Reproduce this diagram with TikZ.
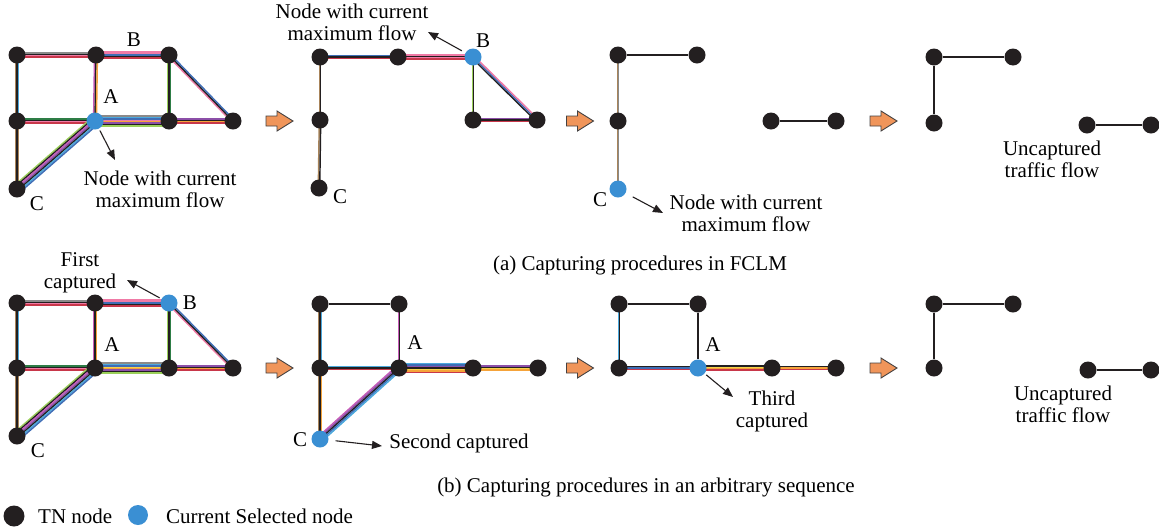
\documentclass[tikz,border=0pt]{standalone}
\usepackage{fontspec}
\setmainfont{Liberation Serif}
\usetikzlibrary{calc,backgrounds,arrows.meta}

% node and arrow colours
\definecolor{tnblack}{HTML}{231F20}
\definecolor{selblue}{HTML}{3A8FD3}
\definecolor{stepfill}{HTML}{F0955A}
% colours of the individual traffic flows
\definecolor{fRed}{HTML}{C8374A}
\definecolor{fPink}{HTML}{F07AA6}
\definecolor{fBlk}{HTML}{231F20}
\definecolor{fBlu}{HTML}{3F6DB5}
\definecolor{fGrn}{HTML}{9BD05A}
\definecolor{fDkg}{HTML}{2E7D46}
\definecolor{fOra}{HTML}{F5A33A}
\definecolor{fPur}{HTML}{8C4FA8}
\definecolor{fLbl}{HTML}{4BA8DC}
\definecolor{fBrn}{HTML}{A8845A}
\definecolor{fMag}{HTML}{C65AB8}
\definecolor{fYel}{HTML}{F6D34A}
\definecolor{fGry}{HTML}{8A8A8A}

\tikzset{
  tn/.style={circle, fill=tnblack, minimum size=17pt, inner sep=0pt},
  sel/.style={tn, fill=selblue},
  lbl/.style={font=\fontsize{21}{22}\selectfont, inner sep=0pt},
  txt/.style={lbl, align=center},
  plain/.style={draw=tnblack, line width=1.3pt},
  callout/.style={-{Triangle[length=10pt,width=8pt]}, line width=1.1pt, draw=tnblack},
  stepflow/.pic={
    \draw[fill=stepfill, draw=tnblack!85, line width=0.9pt, line join=miter]
      (-13.5,-5) -- (-2.5,-5) -- (-2.5,-10) -- (13.5,0) -- (-2.5,10)
      -- (-2.5,5) -- (-13.5,5) -- cycle;
  },
}

% a bundle of parallel thin flow lines between two nodes
\newcommand\flowbundle[3]{%
  \gdef\fbcount{0}%
  \foreach \fbc in {#3}{\xdef\fbcount{\the\numexpr\fbcount+1\relax}}%
  \foreach \fbc [count=\fbi] in {#3}{%
    \pgfmathsetmacro\fboff{(\fbi-(\fbcount+1)/2)*1.45}%
    \draw[draw=\fbc, line width=1.45pt]
      ($(#1.center)!\fboff pt!90:(#2.center)$) --
      ($(#2.center)!\fboff pt!-90:(#1.center)$);
  }%
}

\begin{document}
\begin{tikzpicture}[x=1pt, y=-1pt]
\useasboundingbox (0,0) rectangle (1159,531);

% ---------------- row (a) ----------------
% graph 1
\node[tn]  (a1) at (17,55)  {};
\node[tn]  (a2) at (96,55)  {};
\node[tn]  (aB) at (169,55) {};
\node[tn]  (a4) at (17,121) {};
\node[sel] (aA) at (95,121) {};
\node[tn]  (a6) at (169,121) {};
\node[tn]  (a7) at (233,121) {};
\node[tn]  (aC) at (17,189) {};
\begin{pgfonlayer}{background}
\flowbundle{a1}{a2}{fRed,fPink,fBlk,fGry}
\flowbundle{a2}{aB}{fRed,fBlk,fBlu,fPink,fPink}
\flowbundle{a1}{a4}{fBrn,fBlk,fLbl}
\flowbundle{a2}{aA}{fMag,fBlk,fOra}
\flowbundle{aB}{a6}{fGrn,fBlk,fDkg}
\flowbundle{aB}{a7}{fPink,fBlk,fBlu}
\flowbundle{a4}{aA}{fRed,fPink,fBlk,fDkg}
\flowbundle{aA}{a6}{fGrn,fBlk,fPur,fOra,fPink,fBlu,fLbl,fGry}
\flowbundle{a6}{a7}{fRed,fOra,fBlk,fPur}
\flowbundle{a4}{aC}{fBrn,fBlk,fBrn}
\flowbundle{aA}{aC}{fGrn,fBlk,fMag,fPur,fBlk,fLbl,fBlu}
\end{pgfonlayer}
\node[lbl] at (134,40) {B};
\node[lbl] at (111,97) {A};
\node[lbl] at (37,204) {C};
\node[txt] (ta1) at (160,189.5) {Node with current\\maximum flow};
\coordinate (ka1) at (115,160);
\draw[callout, shorten <=2pt] (aA) -- (ka1);

\pic at (279.5,121) {stepflow};

% graph 2
\node[tn]  (b1) at (320,57)  {};
\node[tn]  (b2) at (398,57)  {};
\node[sel] (bB) at (473,57)  {};
\node[tn]  (b3) at (320,120) {};
\node[tn]  (bC) at (319,188) {};
\node[tn]  (b5) at (473,120) {};
\node[tn]  (b6) at (537,120) {};
\begin{pgfonlayer}{background}
\flowbundle{b1}{b2}{fRed,fBlk,fBlu}
\flowbundle{b2}{bB}{fRed,fPink,fBlk,fPink}
\flowbundle{b1}{b3}{fBrn,fBlk}
\flowbundle{b3}{bC}{fBrn,fBlk}
\flowbundle{bB}{b5}{fGrn,fBlk}
\flowbundle{bB}{b6}{fBlk,fBlu,fPink}
\flowbundle{b5}{b6}{fRed,fBlk,fPur}
\end{pgfonlayer}
\node[lbl] at (483,41) {B};
\node[lbl] at (340,197) {C};
\node[txt] (ta2) at (352,22.5) {Node with current\\maximum flow};
\coordinate (ka2) at (428,32);
\draw[callout, shorten <=4pt] (bB) -- (ka2);

\pic at (580,121) {stepflow};

% graph 3
\node[tn]  (c1) at (618,55)  {};
\node[tn]  (c2) at (697,55)  {};
\node[tn]  (c3) at (618,121) {};
\node[sel] (cC) at (618,189) {};
\node[tn]  (c5) at (771,121) {};
\node[tn]  (c6) at (836,121) {};
\begin{pgfonlayer}{background}
\draw[plain] (c1) -- (c2);
\flowbundle{c1}{c3}{fBrn,fGry}
\flowbundle{c3}{cC}{fBrn,fGry}
\draw[plain] (c5) -- (c6);
\end{pgfonlayer}
\node[lbl] at (600,200) {C};
\node[txt] (ta3) at (746,213) {Node with current\\maximum flow};
\coordinate (ka3) at (663,213);
\draw[callout, shorten <=8pt] (cC) -- (ka3);

\pic at (883.5,121) {stepflow};

% graph 4
\node[tn] (d1) at (934,57)   {};
\node[tn] (d2) at (1013,57)  {};
\node[tn] (d3) at (934,123)  {};
\node[tn] (d4) at (1087,125) {};
\node[tn] (d5) at (1151,125) {};
\begin{pgfonlayer}{background}
\draw[plain] (d1) -- (d2);
\draw[plain] (d1) -- (d3);
\draw[plain] (d4) -- (d5);
\end{pgfonlayer}
\node[txt] (ta4) at (1052,159) {Uncaptured\\traffic flow};

\node[lbl] (capa) at (640,265) {(a) Capturing procedures in FCLM};

% ---------------- row (b) ----------------
% graph 1
\node[tn]  (e1) at (17,303)  {};
\node[tn]  (e2) at (95,303)  {};
\node[sel] (eB) at (169,303) {};
\node[tn]  (e4) at (17,368)  {};
\node[tn]  (eA) at (95,368)  {};
\node[tn]  (e6) at (169,368) {};
\node[tn]  (e7) at (233,368) {};
\node[tn]  (eC) at (17,436)  {};
\begin{pgfonlayer}{background}
\flowbundle{e1}{e2}{fRed,fPink,fBlk,fGry}
\flowbundle{e2}{eB}{fRed,fBlk,fBlu,fPink,fPink}
\flowbundle{e1}{e4}{fBrn,fBlk,fLbl}
\flowbundle{e2}{eA}{fMag,fBlk,fOra}
\flowbundle{eB}{e6}{fGrn,fBlk,fDkg}
\flowbundle{eB}{e7}{fPink,fBlk,fBlu}
\flowbundle{e4}{eA}{fRed,fPink,fBlk,fDkg}
\flowbundle{eA}{e6}{fGrn,fBlk,fPur,fOra,fYel,fBlu,fLbl,fGry}
\flowbundle{e6}{e7}{fRed,fOra,fBlk,fPur}
\flowbundle{e4}{eC}{fBrn,fBlk,fBrn}
\flowbundle{eA}{eC}{fGrn,fBlk,fMag,fPur,fBlk,fLbl,fBlu}
\end{pgfonlayer}
\node[lbl] at (190,303) {B};
\node[lbl] at (112,345) {A};
\node[lbl] at (38,451) {C};
\node[txt] (tb1) at (80,273) {First\\captured};
\coordinate (kb1) at (127,280);
\draw[callout, shorten <=2pt] (eB) -- (kb1);

\pic at (279.5,368) {stepflow};

% graph 2
\node[tn]  (f1) at (320,304) {};
\node[tn]  (f2) at (399,304) {};
\node[tn]  (f3) at (320,368) {};
\node[tn]  (fA) at (399,368) {};
\node[tn]  (f5) at (473,368) {};
\node[tn]  (f6) at (538,368) {};
\node[sel] (fC) at (320,439) {};
\begin{pgfonlayer}{background}
\draw[plain] (f1) -- (f2);
\flowbundle{f1}{f3}{fBrn,fBlk,fLbl}
\flowbundle{f2}{fA}{fMag,fBlk}
\flowbundle{f3}{fA}{fRed,fBlk,fLbl}
\flowbundle{f3}{fC}{fBrn,fBlk,fOra}
\flowbundle{fA}{fC}{fMag,fPur,fBlk,fBlu,fLbl}
\flowbundle{fA}{f5}{fRed,fOra,fYel,fBlk,fPur,fBlu,fLbl}
\flowbundle{f5}{f6}{fOra,fYel,fBlk,fPur}
\end{pgfonlayer}
\node[lbl] at (415,343) {A};
\node[lbl] at (300,440) {C};
\node[lbl] (tb2) at (459,443) {Second captured};
\coordinate (kb2) at (382,446);
\draw[callout, shorten <=7pt] (fC) -- (kb2);

\pic at (580,368) {stepflow};

% graph 3
\node[tn]  (g1) at (619,304) {};
\node[tn]  (g2) at (698,304) {};
\node[tn]  (g3) at (619,368) {};
\node[sel] (gA) at (698,368) {};
\node[tn]  (g5) at (772,368) {};
\node[tn]  (g6) at (836,368) {};
\begin{pgfonlayer}{background}
\draw[plain] (g1) -- (g2);
\flowbundle{g1}{g3}{fLbl,fBlk}
\draw[plain] (g2) -- (gA);
\flowbundle{g3}{gA}{fRed,fBlu,fBlk}
\flowbundle{gA}{g5}{fRed,fOra,fYel,fBlk}
\flowbundle{g5}{g6}{fRed,fOra,fBlk}
\end{pgfonlayer}
\node[lbl] at (713,345) {A};
\node[txt] (tb3) at (772,411) {Third\\captured};
\coordinate (kb3) at (733,397);
\draw[callout, shorten <=2pt] (gA) -- (kb3);

\pic at (883.5,368) {stepflow};

% graph 4
\node[tn] (h1) at (934,304)  {};
\node[tn] (h2) at (1013,304) {};
\node[tn] (h3) at (934,368)  {};
\node[tn] (h4) at (1088,370) {};
\node[tn] (h5) at (1151,370) {};
\begin{pgfonlayer}{background}
\draw[plain] (h1) -- (h2);
\draw[plain] (h1) -- (h3);
\draw[plain] (h4) -- (h5);
\end{pgfonlayer}
\node[txt] (tb4) at (1063,404) {Uncaptured\\traffic flow};

\node[lbl] (capb) at (646,487) {(b) Capturing procedures in an arbitrary sequence};

% ---------------- legend ----------------
\node[tn, minimum size=21pt] (lg1) at (14,516) {};
\node[lbl, anchor=west] (lt1) at (38,516) {TN node};
\node[sel, minimum size=20pt] (lg2) at (138,515) {};
\node[lbl, anchor=west] (lt2) at (166,516) {Current Selected node};
\end{tikzpicture}
\end{document}
